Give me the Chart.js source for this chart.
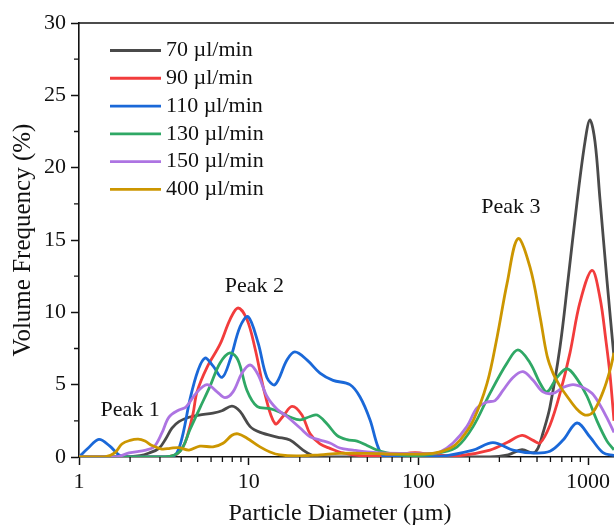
<!DOCTYPE html>
<html>
<head>
<meta charset="utf-8">
<script src="https://cdn.jsdelivr.net/npm/chart.js@4/dist/chart.umd.min.js"></script>
<style>
  html, body { margin: 0; padding: 0; background: #fff; }
  canvas { display: block; }
</style>
</head>
<body>
<canvas id="psd" width="614" height="525"></canvas>
<script>
// Particle size distributions for six flow rates (volume frequency, %)
const flowRates = ['70 µl/min', '90 µl/min', '110 µl/min', '130 µl/min', '150 µl/min', '400 µl/min'];

const size70 = [1, 1.74, 2.29, 2.59, 2.96, 3.26, 3.53, 3.88, 4.45, 5.1, 6.16, 6.96, 7.97, 8.89, 10.2, 11.7, 14.7, 17.5, 20.9, 23.6, 26.3, 264, 338, 408, 474, 506, 542, 596, 683, 761, 860, 959, 1026, 1098, 1175, 1292, 1421];
const vol70  = [0, 0, 0.1, 0.28, 0.6, 1.3, 2.0, 2.45, 2.75, 2.9, 3.04, 3.2, 3.52, 3.15, 2.1, 1.7, 1.38, 1.17, 0.48, 0.12, 0, 0, 0.15, 0.5, 0.28, 0.6, 1.66, 3.46, 7.6, 12.2, 17.6, 21.8, 23.3, 21.8, 17.8, 12.2, 6.9];

const size90 = [1, 3.0, 3.44, 3.78, 4.1, 4.33, 4.7, 4.96, 5.68, 6.78, 7.76, 8.65, 9.77, 10.9, 12.5, 14.3, 15.9, 18.0, 20.6, 23.0, 26.3, 30.1, 36.0, 47.2, 72.8, 95.5, 125, 176, 264, 333, 408, 474, 521, 596, 683, 782, 896, 1054, 1175, 1275, 1346, 1421];
const vol90  = [0, 0, 0.05, 0.2, 0.7, 1.38, 3.0, 4.5, 6.2, 7.8, 9.5, 10.3, 9.5, 7.5, 4.3, 2.3, 2.8, 3.5, 2.9, 1.6, 0.9, 0.6, 0.28, 0.08, 0.15, 0.3, 0.15, 0.1, 0.48, 1.0, 1.5, 1.15, 0.97, 2.2, 4.4, 7.2, 10.7, 12.9, 11.0, 8.0, 5.7, 2.5];

const size110 = [1, 1.13, 1.31, 1.52, 1.74, 1.95, 3.44, 3.78, 4.1, 4.51, 5.03, 5.53, 6.16, 6.96, 7.76, 8.89, 9.91, 11.35, 12.8, 14.3, 16.8, 18.7, 22.1, 26.3, 31.4, 39.5, 45.3, 51.9, 57.8, 63.6, 134, 210, 275, 361, 474, 596, 712, 860, 1026, 1224, 1421];
const vol110  = [0, 0.6, 1.22, 0.75, 0.1, 0, 0, 0.3, 1.6, 4.0, 6.0, 6.84, 6.3, 5.5, 6.7, 9.0, 9.7, 7.9, 5.5, 5.0, 6.7, 7.26, 6.7, 5.8, 5.3, 5.0, 4.15, 2.56, 0.7, 0, 0.05, 0.48, 1.0, 0.48, 0.28, 0.4, 1.17, 2.35, 1.38, 0.3, 0.1];

const size130 = [1, 3.21, 3.94, 4.51, 5.16, 5.92, 6.78, 7.76, 8.65, 9.77, 11.2, 13.35, 15.3, 17.5, 20.1, 23.0, 25.3, 28.9, 33.1, 38.0, 43.5, 49.8, 57.0, 65.3, 77.9, 102, 134, 169, 210, 264, 333, 386, 455, 521, 573, 656, 751, 860, 985, 1128, 1292, 1421];
const vol130  = [0, 0, 0.4, 1.9, 3.4, 4.9, 6.5, 7.2, 6.7, 4.6, 3.5, 3.35, 3.1, 2.76, 2.56, 2.8, 2.9, 2.3, 1.5, 1.2, 1.1, 0.8, 0.48, 0.28, 0.14, 0.1, 0.3, 0.7, 2.1, 4.4, 6.5, 7.4, 6.5, 5.1, 4.5, 5.5, 6.1, 5.4, 4.2, 2.5, 1.1, 0.5];

const size150 = [1, 1.65, 1.97, 2.48, 2.77, 3.08, 3.39, 3.88, 4.27, 4.89, 5.68, 6.51, 7.25, 8.08, 9.13, 10.2, 11.35, 12.8, 14.7, 16.8, 20.1, 23.0, 26.3, 30.1, 34.5, 41.2, 49.8, 59.4, 77.9, 117, 134, 160, 193, 221, 254, 283, 315, 361, 413, 474, 542, 621, 712, 815, 933, 1054, 1175, 1292, 1421];
const vol150  = [0, 0, 0.28, 0.48, 0.7, 1.66, 2.76, 3.25, 3.46, 4.4, 5.0, 4.5, 4.1, 4.5, 5.8, 6.36, 5.7, 4.2, 3.3, 2.8, 2.0, 1.4, 1.17, 0.97, 0.62, 0.48, 0.35, 0.28, 0.25, 0.25, 0.35, 0.97, 2.1, 3.38, 3.8, 3.9, 4.6, 5.5, 5.9, 5.3, 4.5, 4.4, 4.8, 5.0, 4.8, 4.4, 3.6, 2.7, 1.7];

const size400 = [1, 1.42, 1.63, 1.79, 2.0, 2.23, 2.45, 2.69, 3.08, 3.44, 3.88, 4.45, 5.16, 6.16, 7.06, 7.97, 8.65, 9.77, 11.66, 13.35, 15.3, 19.3, 26.3, 34.5, 49.8, 77.9, 122, 154, 176, 210, 254, 291, 333, 386, 455, 521, 573, 621, 683, 751, 860, 959, 1069, 1224, 1346, 1421];
const vol400  = [0, 0, 0.3, 0.9, 1.15, 1.24, 1.1, 0.8, 0.55, 0.6, 0.65, 0.48, 0.75, 0.7, 0.95, 1.5, 1.6, 1.3, 0.7, 0.35, 0.14, 0.07, 0.15, 0.25, 0.25, 0.2, 0.25, 0.6, 1.17, 2.5, 5.1, 8.3, 12.0, 15.1, 13.1, 9.7, 7.0, 5.8, 4.9, 4.2, 3.3, 2.9, 3.1, 4.5, 6.0, 7.2];

const seriesSizes  = [size70, size90, size110, size130, size150, size400];
const seriesVolumes = [vol70, vol90, vol110, vol130, vol150, vol400];
const seriesColors = ['#4a4a4a', '#f23c3c', '#1a68d8', '#2fa865', '#ad74e2', '#cc9600'];

// Axis ticks
const xMajorTicks = [1, 10, 100, 1000];
const yMajorTicks = [0, 5, 10, 15, 20, 25, 30];
const yMinorTicks = [2.5, 7.5, 12.5, 17.5, 22.5, 27.5];
const xMax = 1421;

// Peak annotations placed in data coordinates
const peakNames = ['Peak 1', 'Peak 2', 'Peak 3'];
const peakSize  = [2.0, 10.8, 351];
const peakVol   = [3.2, 11.8, 17.3];

const SERIF = "'Liberation Serif', 'Times New Roman', serif";
const INK = '#111';
Chart.defaults.font.family = SERIF;
Chart.defaults.color = INK;

const xMinorTicks = [];
for (let dec = 1; dec < xMax; dec *= 10) {
  for (let k = 2; k <= 9; k++) {
    if (k * dec <= xMax) xMinorTicks.push(k * dec);
  }
}

const datasets = flowRates.map((label, i) => ({
  label,
  data: seriesSizes[i].map((d, j) => ({ x: d, y: seriesVolumes[i][j] })),
  borderColor: seriesColors[i],
  backgroundColor: seriesColors[i],
  borderWidth: 2.8,
  pointRadius: 0,
  fill: false,
  tension: 0.35,
  order: flowRates.length - i
}));

const decorations = {
  id: 'decorations',
  afterDraw(chart) {
    const { ctx, chartArea: a, scales: { x, y } } = chart;
    ctx.save();

    // top frame line
    ctx.strokeStyle = INK;
    ctx.lineWidth = 1.6;
    ctx.beginPath();
    ctx.moveTo(a.left - 0.8, a.top);
    ctx.lineTo(a.right, a.top);
    ctx.stroke();

    // minor ticks
    ctx.lineWidth = 1.3;
    ctx.beginPath();
    xMinorTicks.forEach(v => {
      const px = x.getPixelForValue(v);
      ctx.moveTo(px, a.bottom);
      ctx.lineTo(px, a.bottom + 5);
    });
    yMinorTicks.forEach(v => {
      const py = y.getPixelForValue(v);
      ctx.moveTo(a.left, py);
      ctx.lineTo(a.left - 5, py);
    });
    ctx.stroke();

    // legend
    ctx.font = '22px ' + SERIF;
    ctx.textAlign = 'left';
    ctx.textBaseline = 'middle';
    chart.data.datasets.forEach((ds, i) => {
      const ly = a.top + 27.5 + i * 27.77;
      ctx.strokeStyle = ds.borderColor;
      ctx.lineWidth = 2.8;
      ctx.beginPath();
      ctx.moveTo(a.left + 31, ly);
      ctx.lineTo(a.left + 82, ly);
      ctx.stroke();
      ctx.fillStyle = INK;
      ctx.fillText(ds.label, a.left + 87, ly);
    });

    // peak labels
    ctx.textAlign = 'center';
    peakNames.forEach((name, i) => {
      ctx.fillText(name, x.getPixelForValue(peakSize[i]), y.getPixelForValue(peakVol[i]));
    });

    // x axis title
    ctx.font = '24px ' + SERIF;
    ctx.fillText('Particle Diameter (µm)', a.left + 261, a.bottom + 57);

    ctx.restore();
  }
};

new Chart(document.getElementById('psd'), {
  type: 'line',
  data: { datasets },
  options: {
    responsive: false,
    animation: false,
    devicePixelRatio: 1,
    layout: { padding: { top: 23, right: 0, bottom: 0, left: 0 } },
    plugins: { legend: { display: false }, tooltip: { enabled: false } },
    scales: {
      x: {
        type: 'logarithmic',
        min: 1,
        max: xMax,
        afterBuildTicks: s => { s.ticks = xMajorTicks.map(v => ({ value: v })); },
        afterFit: s => { s.height = 68; s.paddingLeft = 0; s.paddingRight = 0; },
        ticks: {
          callback: v => String(v),
          font: { size: 22 },
          color: INK,
          padding: 4,
          maxRotation: 0,
          autoSkip: false
        },
        grid: { drawOnChartArea: false, drawTicks: true, tickLength: 8, tickWidth: 1.5, tickColor: INK },
        border: { display: true, color: INK, width: 1.6 }
      },
      y: {
        min: 0,
        max: 30,
        afterBuildTicks: s => { s.ticks = yMajorTicks.map(v => ({ value: v })); },
        afterFit: s => { s.width = 79; s.paddingTop = 0; s.paddingBottom = 0; },
        ticks: { font: { size: 22 }, color: INK, padding: 5 },
        grid: { drawOnChartArea: false, drawTicks: true, tickLength: 8, tickWidth: 1.5, tickColor: INK },
        border: { display: true, color: INK, width: 1.6 },
        title: {
          display: true,
          text: 'Volume Frequency (%)',
          font: { size: 25 },
          color: INK,
          padding: { top: 8, bottom: 0 }
        }
      }
    }
  },
  plugins: [decorations]
});
</script>
</body>
</html>
